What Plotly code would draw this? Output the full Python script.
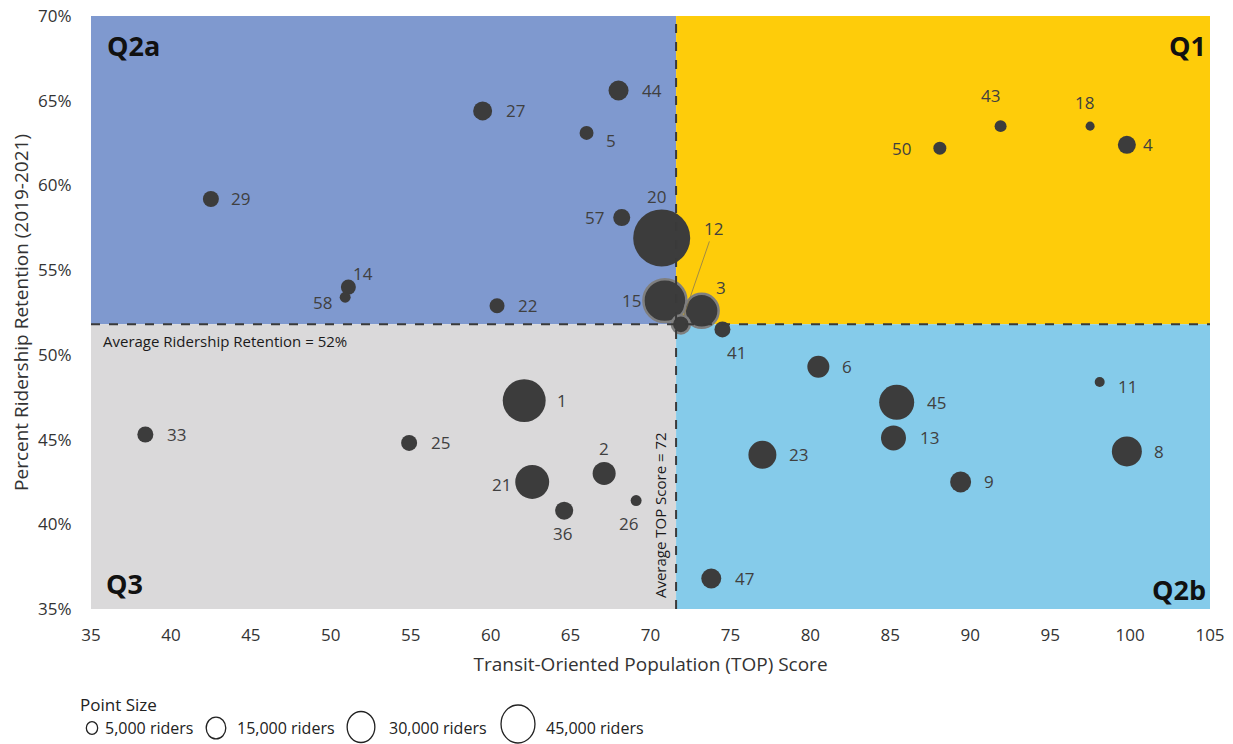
import plotly.graph_objects as go

# ---- data ----
cities = ["44", "27", "5", "29", "57", "20", "14", "58", "22", "15", "3", "12", "41",
          "43", "18", "50", "4", "6", "45", "13", "11", "8", "9", "23", "47",
          "1", "33", "25", "2", "21", "36", "26"]
top_score = [68.0, 59.5, 66.0, 42.5, 68.2, 70.7, 51.1, 50.9, 60.4, 70.9, 73.2, 71.9, 74.5,
             91.9, 97.5, 88.1, 99.8, 80.5, 85.4, 85.2, 98.1, 99.8, 89.4, 77.0, 73.8,
             62.1, 38.4, 54.9, 67.1, 62.6, 64.6, 69.1]
retention = [65.6, 64.4, 63.1, 59.2, 58.1, 56.9, 54.0, 53.4, 52.9, 53.2, 52.6, 51.8, 51.5,
             63.5, 63.5, 62.2, 62.4, 49.3, 47.2, 45.1, 48.4, 44.3, 42.5, 44.1, 36.8,
             47.3, 45.3, 44.8, 43.0, 42.5, 40.8, 41.4]
riders = [15600, 14100, 7600, 10000, 11300, 127000, 8800, 4700, 8800, 72000, 45000, 12700, 10000,
          5600, 3200, 6600, 12700, 18900, 47900, 24400, 3900, 35200, 17200, 30600, 15600,
          72000, 10000, 10000, 20700, 45000, 12700, 4700]

avg_top = 71.6
avg_retention = 51.8
x_ticks = list(range(35, 106, 5))
y_ticks = list(range(35, 71, 5))
y_ticktext = [f"{v}%" for v in y_ticks]
legend_riders = [5000, 15000, 30000, 45000]
legend_text = ["5,000 riders", "15,000 riders", "30,000 riders", "45,000 riders"]

# ---- styling ----
FONT = "Open Sans"
PT = "#3c3c3c"
highlight = {"15", "3", "12"}
# label offsets in px from the point centre (dx right, dy down)
label_offset = {
    "44": (33, 0), "27": (33, 0), "5": (24, 8), "29": (30, 0), "57": (-27, 0),
    "20": (-5, -41), "14": (15, -14), "58": (-23, 5), "22": (30, 0), "15": (-33, 0),
    "3": (19, -23), "12": (33, -96), "41": (14, 23), "43": (-10, -31), "18": (-6, -24),
    "50": (-38, 0), "4": (21, 0), "6": (29, 0), "45": (40, 0), "13": (36, 0),
    "11": (28, 5), "8": (32, 0), "9": (28, 0), "23": (36, 0), "47": (33, 0),
    "1": (38, 0), "33": (31, 0), "25": (31, 0), "2": (0, -25), "21": (-31, 3),
    "36": (-2, 23), "26": (-8, 23),
}

# page has an 8px body margin, so the figure is 8px smaller than the window
OFF = 8
W, H = 1233 - OFF, 744 - OFF
L, R, T, B = 91 - OFF, 23, 16 - OFF, 135
PW, PH = W - L - R, H - T - B


def px_x(px):
    # page pixel -> paper x
    return (px - OFF - L) / PW


def px_y(py):
    # page pixel -> paper y
    return (H - B - (py - OFF)) / PH


def diam(r):
    return 0.16 * r ** 0.5


fig = go.Figure()

# quadrant backgrounds
quads = [
    (35, avg_top, avg_retention, 70, "#7f99cf"),
    (avg_top, 105, avg_retention, 70, "#fecc0a"),
    (35, avg_top, 35, avg_retention, "#dad9da"),
    (avg_top, 105, 35, avg_retention, "#85cbea"),
]
for x0, x1, y0, y1, c in quads:
    fig.add_shape(type="rect", xref="x", yref="y", x0=x0, x1=x1, y0=y0, y1=y1,
                  fillcolor=c, line_width=0, layer="below")

fig.add_shape(type="line", xref="x", yref="y", x0=avg_top, x1=avg_top, y0=35, y1=70,
              line=dict(color="#3a3a3a", width=2, dash="dash"))
fig.add_shape(type="line", xref="x", yref="y", x0=35, x1=105, y0=avg_retention, y1=avg_retention,
              line=dict(color="#3a3a3a", width=2, dash="dash"))

fig.add_trace(go.Scatter(
    x=top_score, y=retention, mode="markers", text=cities,
    marker=dict(
        size=[diam(r) for r in riders],
        color=PT,
        opacity=1,
        line=dict(
            color=["#7f7f7f" if c in highlight else PT for c in cities],
            width=[2.5 if c in highlight else 0 for c in cities],
        ),
    ),
    hovertemplate="%{text}<br>TOP %{x}<br>%{y}%<extra></extra>",
    showlegend=False,
))

# point labels
lab_font = dict(family=FONT, size=17, color="#404040")
for c, x, y in zip(cities, top_score, retention):
    dx, dy = label_offset[c]
    if c == "12":
        # label sits away from the cluster, joined by a thin leader line
        fig.add_annotation(x=x, y=y, xref="x", yref="y", text=c,
                           showarrow=True, arrowhead=0, arrowwidth=0.8, arrowcolor="#8a7a50",
                           ax=dx, ay=dy, standoff=9, font=lab_font)
        continue
    fig.add_annotation(x=x, y=y, xref="x", yref="y", text=c, showarrow=False,
                       xshift=dx, yshift=-dy, font=lab_font)

# quadrant names
qfont = dict(family=FONT, size=27, color="#111111")
fig.add_annotation(xref="paper", yref="paper", x=px_x(105), y=px_y(45), text="<b>Q2a</b>",
                   showarrow=False, xanchor="left", yanchor="middle", font=qfont)
fig.add_annotation(xref="paper", yref="paper", x=px_x(1208), y=px_y(45), text="<b>Q1</b>",
                   showarrow=False, xanchor="right", yanchor="middle", font=qfont)
fig.add_annotation(xref="paper", yref="paper", x=px_x(104), y=px_y(583), text="<b>Q3</b>",
                   showarrow=False, xanchor="left", yanchor="middle", font=qfont)
fig.add_annotation(xref="paper", yref="paper", x=px_x(1208), y=px_y(589), text="<b>Q2b</b>",
                   showarrow=False, xanchor="right", yanchor="middle", font=qfont)

# average labels
avg_font = dict(family=FONT, size=15, color="#1a1a1a")
fig.add_annotation(xref="paper", yref="y", x=px_x(101), y=avg_retention, yshift=-17,
                   text=f"Average Ridership Retention = {round(avg_retention)}%", showarrow=False,
                   xanchor="left", yanchor="middle", font=avg_font)
fig.add_annotation(xref="x", yref="y", x=avg_top, y=35, xshift=-16, yshift=9, textangle=-90,
                   text=f"Average TOP Score = {round(avg_top)}", showarrow=False,
                   xanchor="center", yanchor="bottom", font=avg_font)

# size legend
leg_font = dict(family=FONT, size=16, color="#222222")
fig.add_annotation(xref="paper", yref="paper", x=px_x(78), y=px_y(704), text="Point Size",
                   showarrow=False, xanchor="left", yanchor="middle",
                   font=dict(family=FONT, size=17, color="#222222"))
leg_cx = [92, 216, 361, 518]
leg_cy = [728, 728, 727, 724]
leg_tx = [103, 235, 387, 544]
for r, t, cx, cy, tx in zip(legend_riders, legend_text, leg_cx, leg_cy, leg_tx):
    d = diam(r)
    fig.add_shape(type="circle", xref="paper", yref="paper",
                  xsizemode="pixel", ysizemode="pixel",
                  xanchor=px_x(cx), yanchor=px_y(cy),
                  x0=-d / 2, x1=d / 2, y0=-d / 2 * 1.12, y1=d / 2 * 1.12,
                  line=dict(color="#222222", width=1.3), fillcolor="rgba(0,0,0,0)")
    fig.add_annotation(xref="paper", yref="paper", x=px_x(tx), y=px_y(728), text=t,
                       showarrow=False, xanchor="left", yanchor="middle", font=leg_font)

fig.update_layout(
    width=W, height=H,
    margin=dict(l=L, r=R, t=T, b=B, autoexpand=False),
    paper_bgcolor="white", plot_bgcolor="white",
    font=dict(family=FONT, size=17, color="#333333"),
    showlegend=False,
)
fig.update_xaxes(
    range=[35, 105], tickvals=x_ticks, showgrid=False, zeroline=False, automargin=False,
    showline=False, ticks="outside", ticklen=11, tickcolor="rgba(0,0,0,0)",
    ticklabeloverflow="allow",
    tickfont=dict(family=FONT, size=17, color="#333333"),
    title=dict(text="Transit-Oriented Population (TOP) Score", standoff=12,
               font=dict(family=FONT, size=19, color="#333333")),
)
fig.update_yaxes(
    range=[35, 70], tickvals=y_ticks, ticktext=y_ticktext, showgrid=False, automargin=False,
    zeroline=False, showline=False, ticks="outside", ticklen=15, tickcolor="rgba(0,0,0,0)",
    ticklabeloverflow="allow",
    tickfont=dict(family=FONT, size=17, color="#333333"),
    title=dict(text="Percent Ridership Retention (2019-2021)", standoff=14,
               font=dict(family=FONT, size=19, color="#333333")),
)

fig.write_html("out.html")
